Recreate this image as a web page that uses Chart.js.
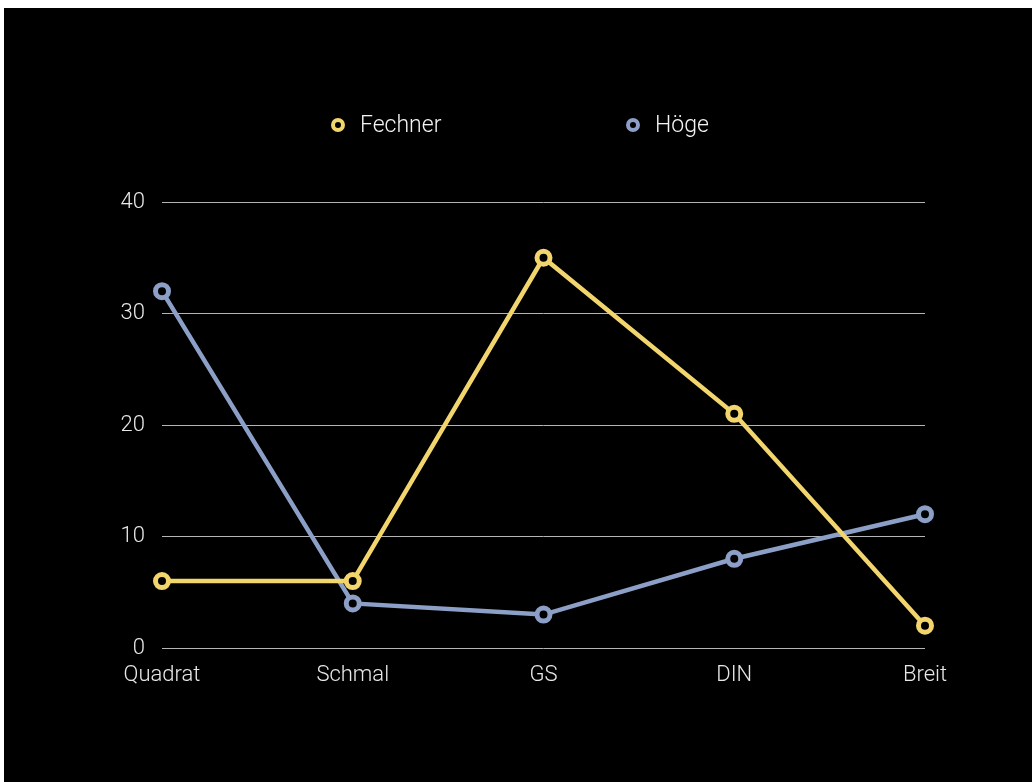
<!DOCTYPE html>
<html>
<head>
<meta charset="utf-8">
<script src="https://cdn.jsdelivr.net/npm/chart.js@4/dist/chart.umd.min.js"></script>
<style>
  body { margin: 0; background: #fff; }
  #wrap { position: absolute; left: 4px; top: 8px; width: 1028px; height: 774px; background: #000; }
</style>
</head>
<body>
<div id="wrap"><canvas id="chart" width="1028" height="774"></canvas></div>
<script>
// data
var categories = ['Quadrat', 'Schmal', 'GS', 'DIN', 'Breit'];
var fechner = [6, 6, 35, 21, 2];
var hoege = [32, 4, 3, 8, 12];
var yTicks = [0, 10, 20, 30, 40];

var yellow = '#f2d56c';
var blue = '#8c9fc6';
var fontFam = '"Helvetica Neue", Roboto, "Liberation Sans", Arial, sans-serif';

// simple legend drawn on top, spaced like the original
var wideLegend = {
  id: 'wideLegend',
  afterDraw: function (chart) {
    var ctx = chart.ctx;
    var xs = [334, 629];
    ctx.save();
    ctx.font = '300 23px ' + fontFam;
    ctx.textBaseline = 'middle';
    chart.data.datasets.forEach(function (ds, i) {
      ctx.beginPath();
      ctx.arc(xs[i], 117, 5, 0, Math.PI * 2);
      ctx.fillStyle = '#000';
      ctx.fill();
      ctx.lineWidth = 4;
      ctx.strokeStyle = ds.borderColor;
      ctx.stroke();
      ctx.fillStyle = '#f4f4f4';
      ctx.fillText(ds.label, xs[i] + 22, 118);
    });
    ctx.restore();
  }
};

var chart = new Chart(document.getElementById('chart'), {
  type: 'line',
  data: {
    labels: categories,
    datasets: [
      { label: 'Fechner', data: fechner, borderColor: yellow, backgroundColor: '#000',
        pointBackgroundColor: '#000', pointBorderColor: yellow },
      { label: 'Höge', data: hoege, borderColor: blue, backgroundColor: '#000',
        pointBackgroundColor: '#000', pointBorderColor: blue }
    ]
  },
  options: {
    responsive: false,
    animation: false,
    elements: {
      line: { borderWidth: 4.5, tension: 0 },
      point: { radius: 6.5, borderWidth: 5, hoverRadius: 6.5 }
    },
    layout: { padding: { top: 194, right: 107, left: 0, bottom: 0 } },
    plugins: { legend: { display: false }, tooltip: { enabled: false } },
    scales: {
      x: {
        offset: false,
        grid: { display: false },
        border: { display: false },
        ticks: { color: '#e8e8e8', font: { family: fontFam, size: 22, weight: '300' }, padding: 6, maxRotation: 0 },
        afterFit: function (s) { s.height = 134; }
      },
      y: {
        min: 0, max: 40,
        afterBuildTicks: function (s) { s.ticks = yTicks.map(function (v) { return { value: v }; }); },
        grid: { color: '#b5b5b5', lineWidth: 1, drawTicks: false },
        border: { display: false },
        ticks: { color: '#e8e8e8', font: { family: fontFam, size: 22, weight: '300' }, padding: 17 },
        afterFit: function (s) { s.width = 158; }
      }
    }
  },
  plugins: [wideLegend]
});
</script>
</body>
</html>
